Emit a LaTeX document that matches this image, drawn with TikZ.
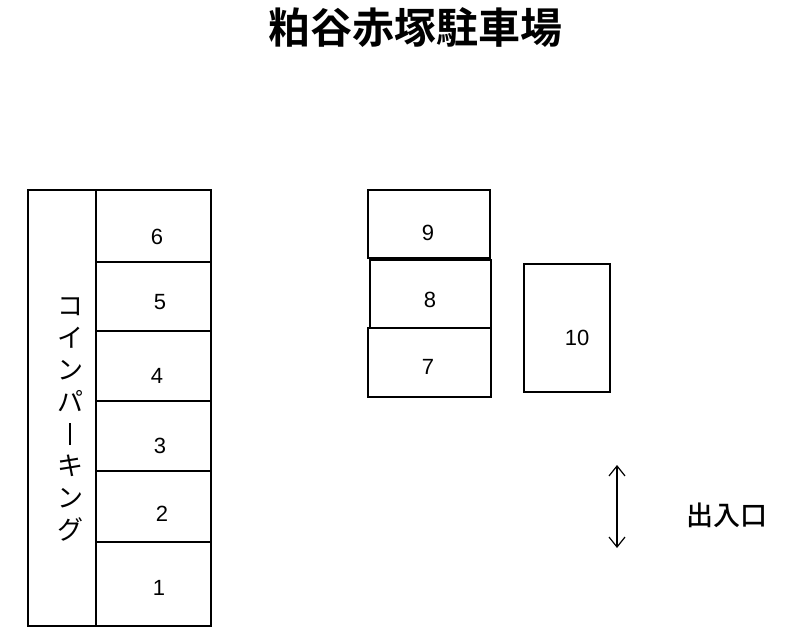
\documentclass[tikz,border=0pt]{standalone}
\usepackage{fontspec}
\setmainfont{Liberation Sans}
\newfontfamily\jp{Noto Sans CJK JP}
\newfontfamily\jpm{Noto Sans CJK JP Medium}
\newfontfamily\jpb{Noto Sans CJK JP Bold}
\usetikzlibrary{arrows.meta}
\begin{document}
\begin{tikzpicture}[x=1pt,y=-1pt,
  box/.style={draw,line width=1.2pt,inner sep=0pt},
  lbl/.style={font=\fontsize{22}{24}\selectfont}]
\useasboundingbox (0,0) rectangle (796,640);
\node[font=\jpb\fontsize{42}{44}\selectfont] (title) at (415,28) {粕谷赤塚駐車場};
% coin parking
\node[box,minimum width=68pt,minimum height=436pt] (coin) at (62,408) {};
\node[font=\jp\fontsize{26}{28}\selectfont,align=center,inner sep=0pt] (ct) at (70,419)
 {コ\\[4pt]イ\\[4pt]ン\\[4pt]パ\\[4pt]\makebox[26pt]{\rule[-2pt]{1.6pt}{22pt}}\\[4pt]キ\\[4pt]ン\\[4pt]グ};
% stalls
\foreach \n/\ya/\yb/\lx/\ly in {6/190/262/157/237,5/262/331/160/302,4/331/401/157/376,3/401/471/160/446,2/471/542/162/514,1/542/626/159/588}{
  \draw[line width=1.2pt] (96,\ya) rectangle (211,\yb);
  \node[lbl] (s\n) at (\lx,\ly) {\n};
}
\foreach \n/\xa/\xb/\ya/\yb/\lx/\ly in {9/368/490/190/258/428/233,8/370/491/260/328/430/300,7/368/491/328/397/428/367,10/524/610/264/392/577/338}{
  \draw[line width=1.2pt] (\xa,\ya) rectangle (\xb,\yb);
  \node[lbl] (s\n) at (\lx,\ly) {\n};
}
\coordinate (a1) at (617,465);
\coordinate (a2) at (617,548);
\draw[line width=1.2pt,{Straight Barb[length=10pt,width=16pt]}-{Straight Barb[length=10pt,width=16pt]}] (a1) -- (a2);
\node[font=\jpm\fontsize{27}{29}\selectfont] (gate) at (727,515) {出入口};
\end{tikzpicture}
\end{document}
